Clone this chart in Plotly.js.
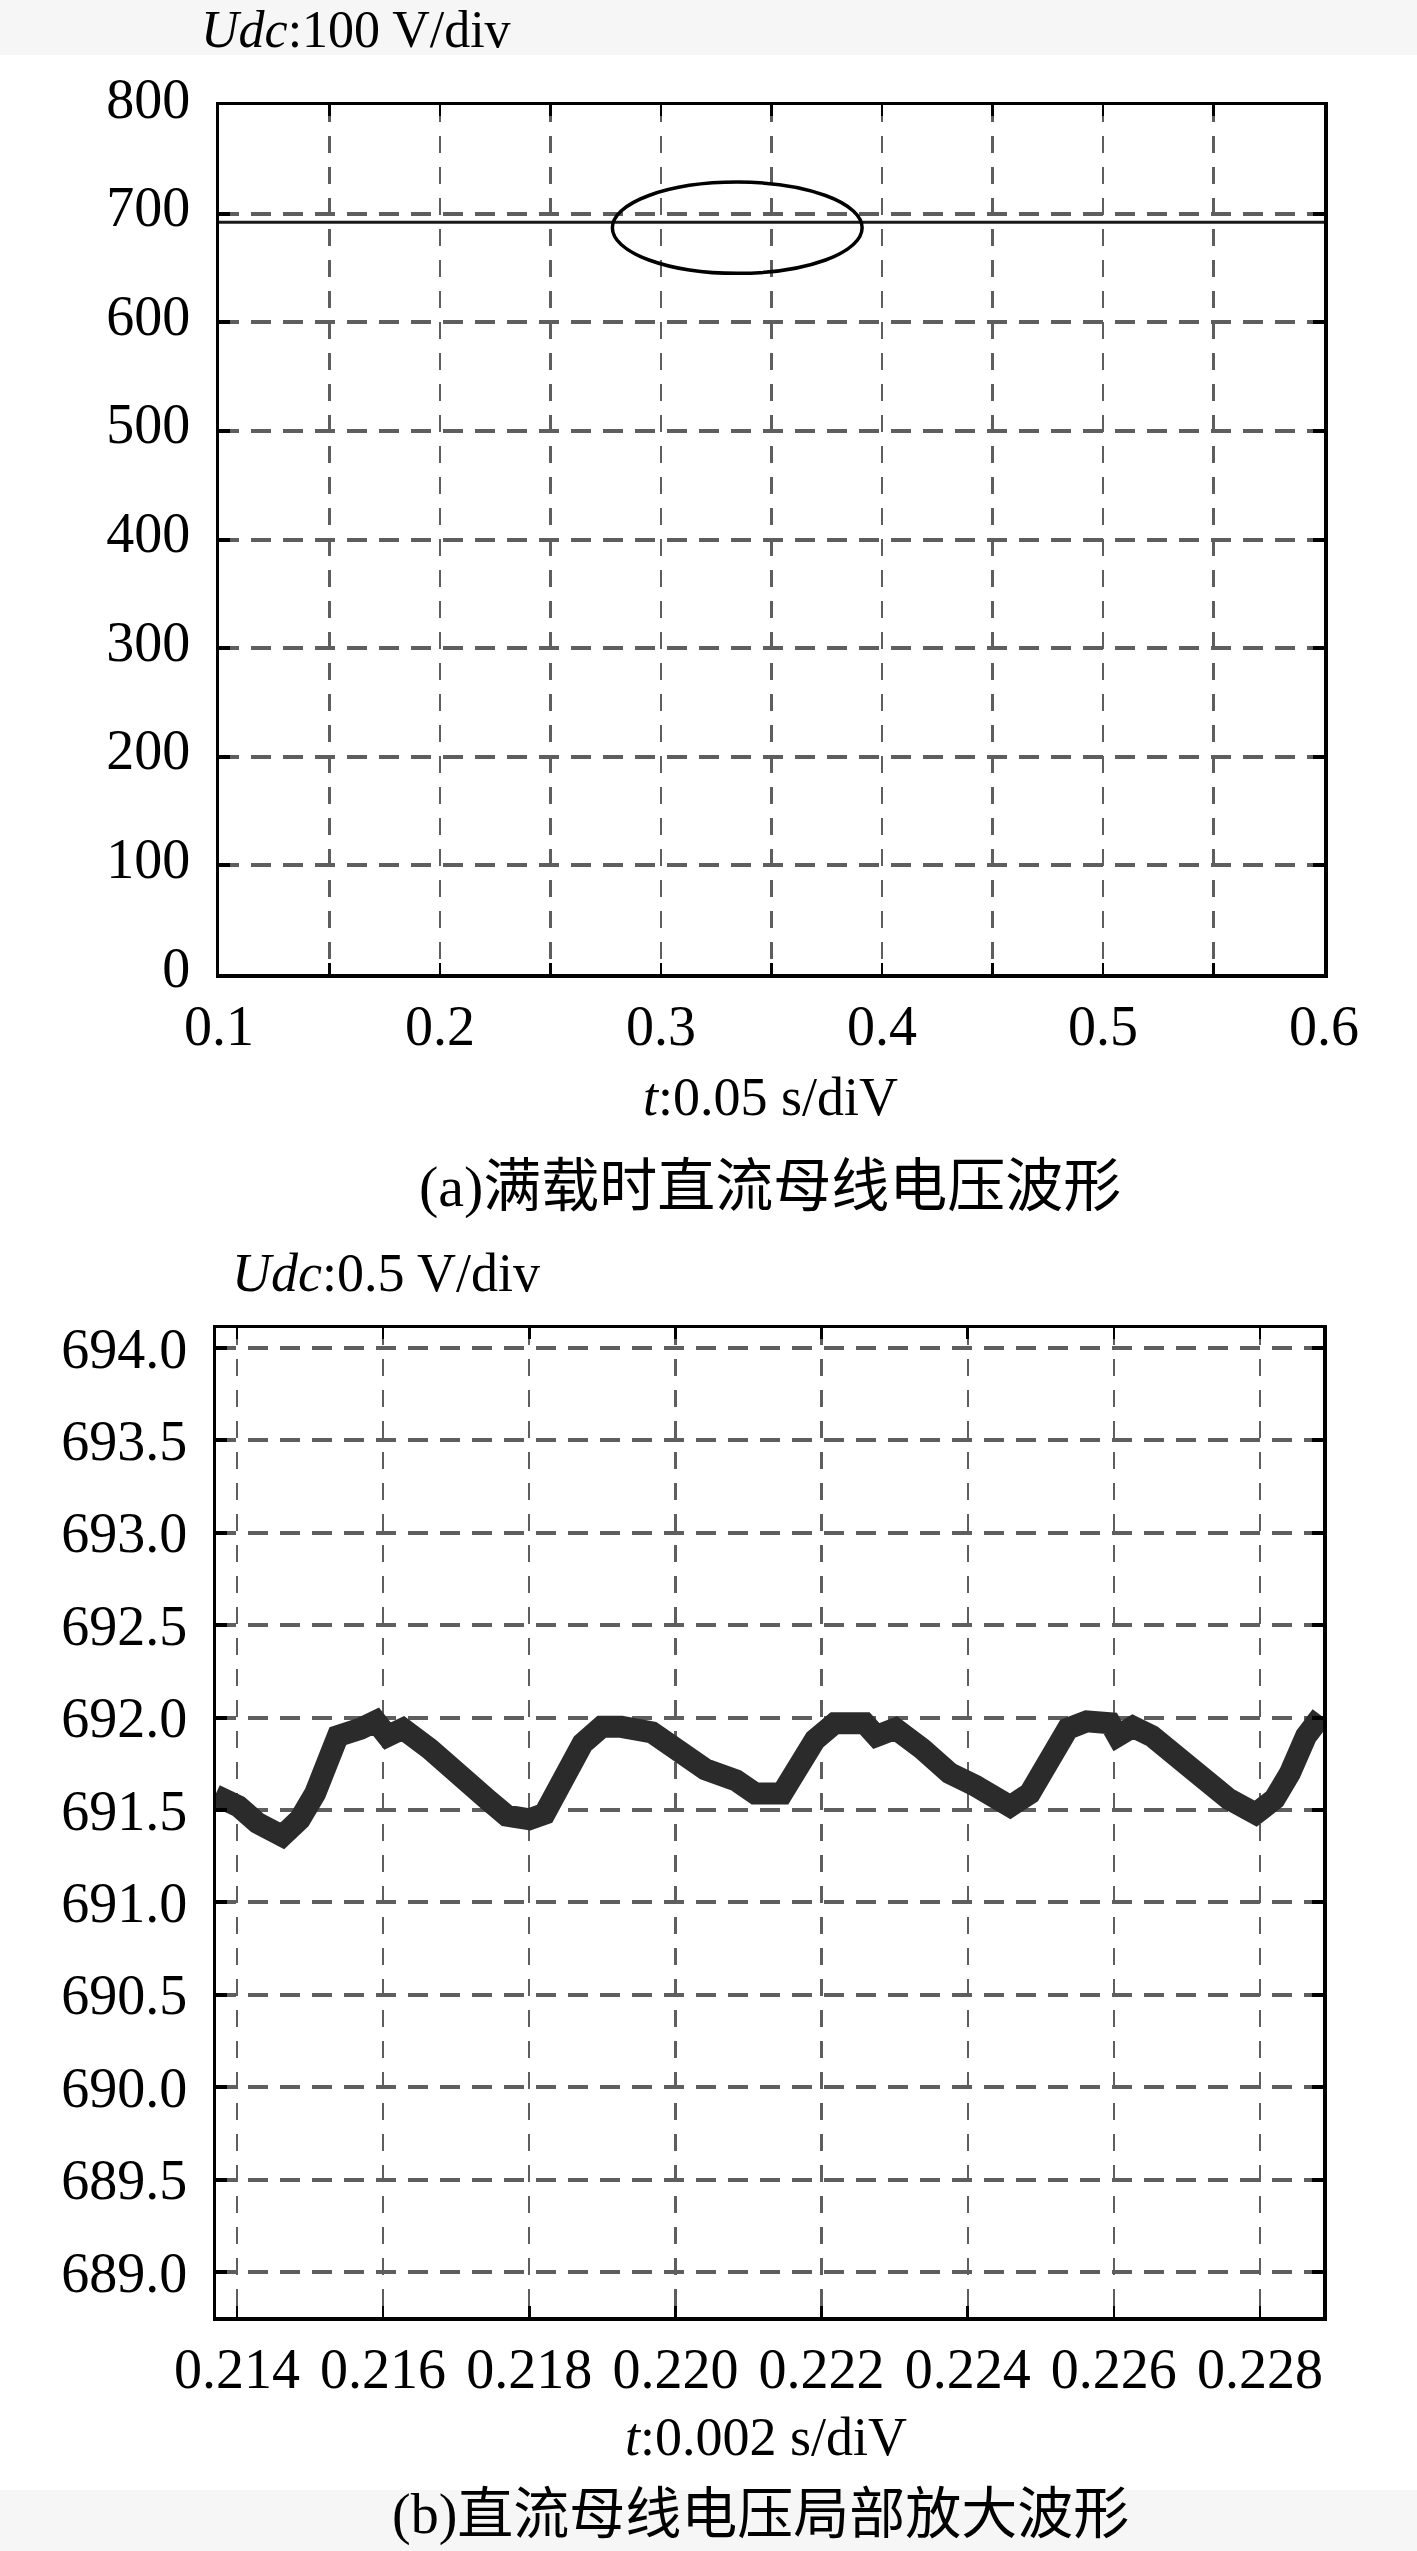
<!DOCTYPE html>
<html>
<head>
<meta charset="utf-8">
<script src="https://cdn.plot.ly/plotly-3.0.1.min.js"></script>
<style>
  html, body { margin: 0; padding: 0; background: #fff; }
  #chart { width: 1417px; height: 2551px; }
</style>
</head>
<body>
<div id="chart"></div>
<script>
// (a) full-load DC bus voltage, 0.1 .. 0.6 s
const fullT = [0.1, 0.6];
const fullUdc = [692, 692];
const fullTickVals = [0.1, 0.15, 0.2, 0.25, 0.3, 0.35, 0.4, 0.45, 0.5, 0.55, 0.6];
const fullTickText = ["0.1", "", "0.2", "", "0.3", "", "0.4", "", "0.5", "", "0.6"];
const fullYTicks = [0, 100, 200, 300, 400, 500, 600, 700, 800];
// circled region on (a)
const circleT = [0.278, 0.391];
const circleUdc = [645, 729];

// (b) zoomed DC bus voltage ripple
const zoomT = [
  0.21370, 0.21402, 0.21428, 0.21462, 0.21486, 0.21507, 0.21527, 0.21538, 0.21569, 0.21590,
  0.21606, 0.21627, 0.21664, 0.21716, 0.21742, 0.21769, 0.21800, 0.21821, 0.21847, 0.21873,
  0.21899, 0.21926, 0.21968, 0.22004, 0.22041, 0.22083, 0.22109, 0.22146, 0.22176, 0.22191,
  0.22218, 0.22259, 0.22275, 0.22301, 0.22338, 0.22375, 0.22411, 0.22438, 0.22458, 0.22485,
  0.22511, 0.22537, 0.22563, 0.22595, 0.22605, 0.22626, 0.22652, 0.22689, 0.22731, 0.22757,
  0.22794, 0.22820, 0.22841, 0.22863, 0.22884
];
const zoomUdc = [
  691.58, 691.52, 691.43, 691.36, 691.45, 691.59, 691.79, 691.90, 691.94, 691.98,
  691.90, 691.94, 691.83, 691.63, 691.56, 691.47, 691.45, 691.48, 691.66, 691.86,
  691.95, 691.95, 691.92, 691.83, 691.72, 691.66, 691.59, 691.59, 691.76, 691.88,
  691.97, 691.97, 691.90, 691.94, 691.83, 691.70, 691.63, 691.56, 691.52, 691.59,
  691.74, 691.94, 691.98, 691.97, 691.90, 691.95, 691.90, 691.78, 691.66, 691.56,
  691.48, 691.56, 691.70, 691.90, 692.01
];
const zoomTickVals = [0.214, 0.216, 0.218, 0.220, 0.222, 0.224, 0.226, 0.228];
const zoomTickText = ["0.214", "0.216", "0.218", "0.220", "0.222", "0.224", "0.226", "0.228"];
const zoomYTicks = [689.0, 689.5, 690.0, 690.5, 691.0, 691.5, 692.0, 692.5, 693.0, 693.5, 694.0];

const W = 1417, H = 2551;
const FONT = "Liberation Serif, 'Times New Roman', 'Noto Sans CJK SC', serif";
const GRID = "#5e5e5e";

// pixel helpers for paper coords
const px = x => x / W;
const py = y => 1 - y / H;

function xAxisBase(extra) {
  return Object.assign({
    showline: true, linecolor: "#000", linewidth: 3.5, mirror: "ticks",
    ticks: "inside", ticklen: 11, tickwidth: 2.5, tickcolor: "#000",
    showgrid: true, gridcolor: GRID, gridwidth: 2.2, griddash: "17px,14px",
    zeroline: false, tickfont: { family: FONT, size: 56, color: "#000" },
    tickmode: "array", fixedrange: true
  }, extra);
}
function yAxisBase(extra) {
  return Object.assign({
    showline: true, linecolor: "#000", linewidth: 3.5, mirror: "ticks",
    ticks: "inside", ticklen: 11, tickwidth: 4, tickcolor: "#000",
    showgrid: true, gridcolor: GRID, gridwidth: 4, griddash: "20px,12px",
    zeroline: false, tickfont: { family: FONT, size: 56, color: "#000" },
    tickmode: "array", fixedrange: true
  }, extra);
}

const traces = [
  {
    type: "scatter", mode: "lines", x: fullT, y: fullUdc,
    xaxis: "x", yaxis: "y",
    line: { color: "#1a1a1a", width: 3 }, hoverinfo: "skip"
  },
  {
    type: "scatter", mode: "lines", x: zoomT, y: zoomUdc,
    xaxis: "x2", yaxis: "y2",
    line: { color: "#2b2b2b", width: 22 }, hoverinfo: "skip"
  }
];

const layout = {
  width: W, height: H,
  margin: { l: 0, r: 0, t: 0, b: 0 },
  paper_bgcolor: "#fff", plot_bgcolor: "#fff",
  showlegend: false,
  font: { family: FONT, color: "#000" },
  xaxis: xAxisBase({
    domain: [px(219), px(1324)], anchor: "y",
    range: [0.1, 0.6], tickvals: fullTickVals, ticktext: fullTickText,
    ticklabelstandoff: 0
  }),
  yaxis: yAxisBase({
    domain: [py(974), py(105)], anchor: "x",
    range: [0, 800], tickvals: fullYTicks, ticktext: fullYTicks.map(String),
    ticklabelstandoff: 14, ticklabelshift: -7
  }),
  xaxis2: xAxisBase({
    domain: [px(216), px(1323)], anchor: "y2",
    range: [0.213713, 0.228862], tickvals: zoomTickVals, ticktext: zoomTickText,
    ticklabelstandoff: 0
  }),
  yaxis2: yAxisBase({
    domain: [py(2317), py(1328)], anchor: "x2",
    range: [688.757, 694.108], tickvals: zoomYTicks, ticktext: zoomYTicks.map(v => v.toFixed(1)),
    ticklabelstandoff: 14
  }),
  shapes: [
    { type: "rect", xref: "paper", yref: "paper", x0: 0, x1: 1, y0: py(55), y1: 1,
      fillcolor: "#f6f6f6", line: { width: 0 }, layer: "below" },
    { type: "rect", xref: "paper", yref: "paper", x0: 0, x1: 1, y0: 0, y1: py(2490),
      fillcolor: "#f6f6f6", line: { width: 0 }, layer: "below" },
    { type: "circle", xref: "x", yref: "y",
      x0: circleT[0], x1: circleT[1], y0: circleUdc[0], y1: circleUdc[1],
      line: { color: "#000", width: 3.5 } }
  ],
  annotations: [
    { xref: "paper", yref: "paper", x: px(199), y: py(30), xanchor: "left", yanchor: "middle",
      text: "<i>Udc</i>:100 V/div", showarrow: false, font: { family: FONT, size: 52 } },
    { xref: "paper", yref: "paper", x: px(770), y: py(1097), xanchor: "center", yanchor: "middle",
      text: "<i>t</i>:0.05 s/diV", showarrow: false, font: { family: FONT, size: 54 } },
    { xref: "paper", yref: "paper", x: px(770), y: py(1187), xanchor: "center", yanchor: "middle",
      text: "(a)满载时直流母线电压波形", showarrow: false, font: { family: FONT, size: 58 } },
    { xref: "paper", yref: "paper", x: px(230), y: py(1273), xanchor: "left", yanchor: "middle",
      text: "<i>Udc</i>:0.5 V/div", showarrow: false, font: { family: FONT, size: 54 } },
    { xref: "paper", yref: "paper", x: px(766), y: py(2437), xanchor: "center", yanchor: "middle",
      text: "<i>t</i>:0.002 s/diV", showarrow: false, font: { family: FONT, size: 54 } },
    { xref: "paper", yref: "paper", x: px(760), y: py(2514), xanchor: "center", yanchor: "middle",
      text: "(b)直流母线电压局部放大波形", showarrow: false, font: { family: FONT, size: 56 } }
  ]
};

Plotly.newPlot("chart", traces, layout, { displayModeBar: false, staticPlot: true });
</script>
</body>
</html>
